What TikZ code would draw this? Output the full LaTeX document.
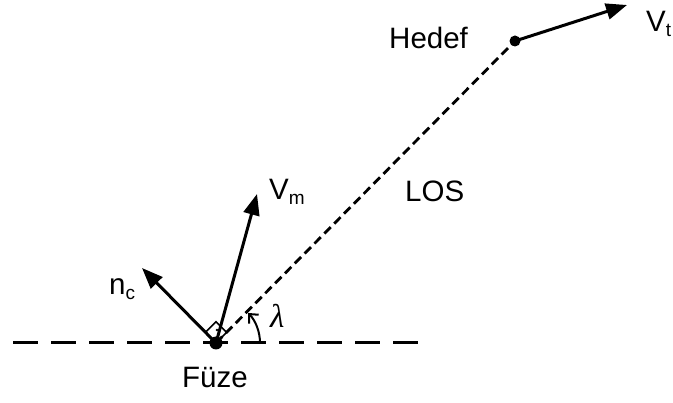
\documentclass[tikz,border=0pt]{standalone}
\usepackage{fontspec}
\setmainfont{Liberation Sans}
\newfontfamily\lamfont{Liberation Serif}
\usetikzlibrary{arrows.meta}
\newcommand\mysub[1]{\raisebox{-4.5pt}{\fontsize{19}{19}\selectfont #1}}
\begin{document}
\begin{tikzpicture}[x=1pt,y=-1pt,
  lbl/.style={inner sep=0pt,anchor=base west,font=\fontsize{29.5}{32}\selectfont},
  vec/.style={line width=3pt,-{Triangle[length=21pt,width=16pt]}},
  dot/.style={circle,fill=black,inner sep=0pt,minimum size=#1},
  horiz/.style={line width=3pt,dash pattern=on 25pt off 13pt},
  losline/.style={line width=2.8pt,dash pattern=on 9pt off 5pt},
  rightmark/.style={line width=1.5pt},
  anglearrow/.style={line width=2pt,-{Straight Barb[length=7pt,width=13pt]}}]
\useasboundingbox (0,0) rectangle (673,403);
% points
\coordinate (hl) at (13,343);
\coordinate (hr) at (418,343);
\coordinate (vttip) at (627,5);
\coordinate (vmtip) at (257,194);
\coordinate (nctip) at (142,268);
% horizontal reference line
\draw[horiz] (hl) -- (hr);
% LOS
\draw[losline] (216,343) coordinate (mc) -- (515,41) coordinate (tc);
% right-angle mark
\draw[rightmark] (mc) -- (205.4,332.4) -- (216,321.8) -- (226.6,332.4) -- cycle;
\fill (217,330) circle (1.3pt);
% angle arc
\draw[anglearrow] (mc) ++(44,0) arc[start angle=0,end angle=-43,radius=44];
% vectors
\draw[vec] (mc) -- (vmtip);
\draw[vec] (mc) -- (nctip);
\draw[vec] (tc) -- (vttip);
% dots
\node[dot=13pt] (m) at (mc) {};
\node[dot=11pt] (t) at (tc) {};
% labels
\node[lbl] (hedef) at (389,49) {Hedef};
\node[lbl] (fuze) at (182,388) {Füze};
\node[lbl] (vt) at (646,32) {V\mysub{t}};
\node[lbl] (vm) at (269,200) {V\mysub{m}};
\node[lbl] (nc) at (109,295) {n\mysub{c}};
\node[lbl] (los) at (405,202) {LOS};
\node[lbl] (lam) at (270,328) {\fontsize{33}{33}\selectfont\lamfont\itshape λ};
\end{tikzpicture}
\end{document}
